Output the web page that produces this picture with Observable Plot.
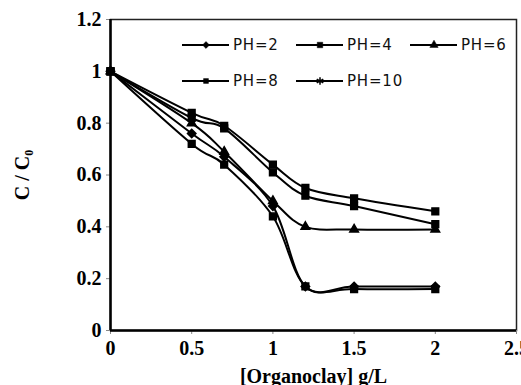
<!DOCTYPE html>
<html>
<head>
<meta charset="utf-8">
<script src="https://cdn.jsdelivr.net/npm/d3@7"></script>
<script src="https://cdn.jsdelivr.net/npm/@observablehq/plot@0.6"></script>
<style>
  html, body { margin: 0; padding: 0; background: #fff; }
  #wrap { position: relative; width: 521px; height: 385px; }
  #legend { position: absolute; left: 182px; top: 34px; display: grid;
    grid-template-columns: 114px 114px 114px; row-gap: 14px;
    font: 15px "DejaVu Sans", sans-serif; letter-spacing: 0.8px; color: #111; }
  .item { display: flex; align-items: center; height: 22px; }
  .item svg { margin-right: 4px; }
</style>
</head>
<body>
<div id="wrap"><div id="legend"></div></div>
<script>
const dose = [0, 0.5, 0.7, 1, 1.2, 1.5, 2];
const series = ["PH=2", "PH=4", "PH=6", "PH=8", "PH=10"];
const symbols = ["diamond2", "square", "triangle", "square", "square"];
const legendSymbols = ["diamond2", "square", "triangle", "square2", "asterisk"];
const ph2  = [1, 0.76, 0.67, 0.48, 0.17, 0.17, 0.17];
const ph4  = [1, 0.72, 0.64, 0.44, 0.17, 0.16, 0.16];
const ph6  = [1, 0.80, 0.69, 0.50, 0.40, 0.39, 0.39];
const ph8  = [1, 0.84, 0.79, 0.64, 0.55, 0.51, 0.46];
const ph10 = [1, 0.82, 0.78, 0.61, 0.52, 0.48, 0.41];
const xTicks = [0, 0.5, 1, 1.5, 2, 2.5];
const yTicks = [0, 0.2, 0.4, 0.6, 0.8, 1, 1.2];

const values = [ph2, ph4, ph6, ph8, ph10];
const rows = [];
series.forEach((s, i) => dose.forEach((d, j) => rows.push({series: s, x: d, y: values[i][j], sym: symbols[i]})));

const fmt = d => String(+d.toFixed(1));

const chart = Plot.plot({
  width: 521, height: 385,
  marginLeft: 110, marginRight: 5, marginTop: 19, marginBottom: 55,
  style: {font: "bold 17px 'Liberation Serif', serif", color: "#000", background: "#fff"},
  x: {domain: [0, 2.5]},
  y: {domain: [0, 1.2]},
  marks: [
    Plot.frame({stroke: "#222", strokeWidth: 1.5}),
    Plot.axisY({ticks: yTicks, tickFormat: fmt, tickSize: 4, tickPadding: 5, stroke: "#888",
      label: "C / C₀", labelAnchor: "center", labelArrow: "none", labelOffset: 96, fontSize: 20}),
    Plot.axisX({ticks: xTicks, tickFormat: fmt, tickSize: 4, tickPadding: 6, stroke: "#888",
      label: "[Organoclay] g/L", labelAnchor: "center", labelArrow: "none", labelOffset: 52, fontSize: 20}),
    Plot.ruleX([0], {stroke: "#000", strokeWidth: 2.5}),
    Plot.ruleY([0], {stroke: "#000", strokeWidth: 2.5}),
    Plot.line(rows, {x: "x", y: "y", z: "series", stroke: "#000", strokeWidth: 2, curve: "cardinal", tension: 0}),
    Plot.dot(rows, {filter: d => d.sym !== "triangle", x: "x", y: "y", symbol: "sym", fill: "#000", stroke: "#000", r: 3.8}),
    Plot.dot(rows, {filter: d => d.sym === "triangle", x: "x", y: "y", symbol: "sym", fill: "#000", stroke: "#000", r: 3.2})
  ]
});
document.getElementById("wrap").prepend(chart);
chart.style.position = "absolute"; chart.style.left = "0"; chart.style.top = "0";
// axis tick labels stay at 17px; axis titles larger
d3.select(chart).selectAll("[aria-label='x-axis label'] text, [aria-label='y-axis label'] text").style("font-size", "20px");

const legend = document.getElementById("legend");
const symMap = {diamond2: d3.symbolDiamond2, square: d3.symbolSquare, triangle: d3.symbolTriangle, square2: d3.symbolSquare2, asterisk: d3.symbolAsterisk};
series.forEach((s, i) => {
  const item = document.createElement("div");
  item.className = "item";
  const sw = d3.create("svg").attr("width", 47).attr("height", 12);
  sw.append("line").attr("x1", 0).attr("x2", 47).attr("y1", 6).attr("y2", 6).attr("stroke", "#000").attr("stroke-width", 2);
  const symName = legendSymbols[i];
  const open = symName === "asterisk";
  sw.append("path").attr("transform", "translate(24,6)")
    .attr("d", d3.symbol(symMap[symName], open ? 40 : 30)())
    .attr("fill", open ? "none" : "#000").attr("stroke", "#000").attr("stroke-width", open ? 1.5 : 0.5);
  item.append(sw.node());
  const t = document.createElement("span");
  t.textContent = s;
  item.append(t);
  legend.append(item);
});
</script>
</body>
</html>
